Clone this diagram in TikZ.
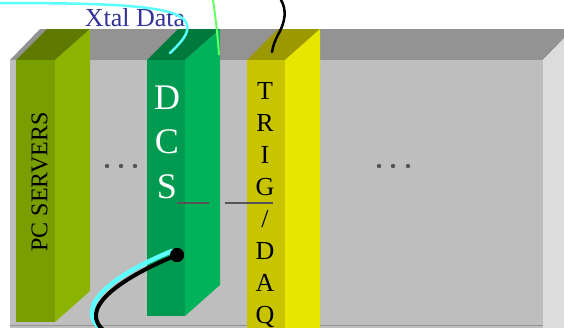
\documentclass[tikz,border=0pt]{standalone}
\usepackage{fontspec}
\setmainfont{Liberation Serif}
\definecolor{boxtop}{HTML}{939393}
\definecolor{boxfront}{HTML}{BEBEBE}
\definecolor{boxside}{HTML}{DCDCDC}
\definecolor{pctop}{HTML}{5E7A00}
\definecolor{pcfront}{HTML}{789E00}
\definecolor{pcside}{HTML}{8AB400}
\definecolor{dcstop}{HTML}{007A3C}
\definecolor{dcsfront}{HTML}{009B50}
\definecolor{dcsside}{HTML}{00B25A}
\definecolor{trigtop}{HTML}{9C9900}
\definecolor{trigfront}{HTML}{C8C400}
\definecolor{trigside}{HTML}{E6E600}
\definecolor{xtalblue}{HTML}{333399}
\definecolor{cablecyan}{HTML}{5CFFFF}
\definecolor{cablegreen}{HTML}{66FF66}
\definecolor{dotgray}{HTML}{555555}
\newcommand\drawslot[6]{%
  \fill[#4] (#1,60) -- (#1+31,29) -- (#2+35,29) -- (#2,60) -- cycle;
  \fill[#5] (#1,60) rectangle (#2,#3);
  \fill[#6] (#2,60) -- (#2+35,29) -- (#2+35,#3-31) -- (#2,#3) -- cycle;
}
\begin{document}
\begin{tikzpicture}[x=1pt,y=-1pt,
  slottext/.style={font=\fontsize{24}{24}\selectfont, inner sep=0pt},
  dcstext/.style={font=\fontsize{36}{36}\selectfont, text=white, inner sep=0pt, anchor=base},
  trigtext/.style={font=\fontsize{26}{26}\selectfont, text=black, inner sep=0pt, anchor=base},
  dotmark/.style={fill=dotgray},
  busline/.style={draw=dotgray, line width=1.5pt},
  cable/.style={line width=2.5pt, line cap=round}]
\useasboundingbox (0,0) rectangle (564,327);
\clip (0,0) rectangle (564,327);
% crate
\fill[boxtop] (10,60) -- (40,29) -- (573,29) -- (543,60) -- cycle;
\fill[boxfront] (10,60) rectangle (543,340);
\fill[boxside] (543,60) -- (573,29) -- (573,340) -- (543,340) -- cycle;
\draw[gray!85, line width=1pt] (10,325.5) -- (543,325.5);
% slots
\drawslot{16}{55}{322}{pctop}{pcfront}{pcside}
\drawslot{147}{185}{316}{dcstop}{dcsfront}{dcsside}
\drawslot{247}{285}{362}{trigtop}{trigfront}{trigside}
% texts
\node[text=xtalblue, font=\fontsize{26}{26}\selectfont, anchor=base, inner sep=0pt] (xtal) at (135,26) {Xtal Data};
\node[slottext, rotate=90] (pc) at (39.5,182) {PC SERVERS};
\foreach \l/\y [count=\i] in {D/109,C/153.5,S/198}
  \node[dcstext] (dcs\i) at (167,\y) {\l};
\foreach \l [count=\i] in {T,R,I,G,/,D,A,Q}
  \node[trigtext] (trig\i) at (265,{99+32*(\i-1)}) {\l};
% dots
\foreach \x in {107,121,135,379,393,408}
  \fill[dotmark] (\x,166) circle (2.2);
% bus lines
\coordinate (b1) at (177,203); \coordinate (b2) at (209,203);
\coordinate (b3) at (225,203); \coordinate (b4) at (273,203);
\draw[busline] (b1) -- (b2);
\draw[busline] (b3) -- (b4);
% top cables
\coordinate (cyanstart) at (0,3);
\coordinate (cyanend) at (170,53);
\draw[cable, cablecyan] (cyanstart) .. controls (120,3) and (176,6) .. (186,22) .. controls (192,33) and (178,45) .. (cyanend);
\coordinate (greenstart) at (213,0);
\coordinate (greenend) at (219,55);
\draw[line width=2pt, cablegreen] (greenstart) .. controls (216,20) and (218,40) .. (greenend);
\coordinate (blackstart) at (281,0);
\coordinate (blackend) at (272,52);
\draw[cable, black] (blackstart) .. controls (287,10) and (285,22) .. (279,33) .. controls (275,40) and (273,46) .. (blackend);
% bottom cable
\node[circle, fill=black, minimum size=14pt, inner sep=0pt] (plug) at (177,255) {};
\coordinate (cabend) at (106,332);
\draw[line width=4.5pt, cablecyan, line cap=round] (172,251) .. controls (116,274) and (71,306) .. (102,330);
\draw[line width=4pt, black] (plug.center) .. controls (120,278) and (75,310) .. (cabend);
\fill[black] (plug) circle (7);
\end{tikzpicture}
\end{document}
